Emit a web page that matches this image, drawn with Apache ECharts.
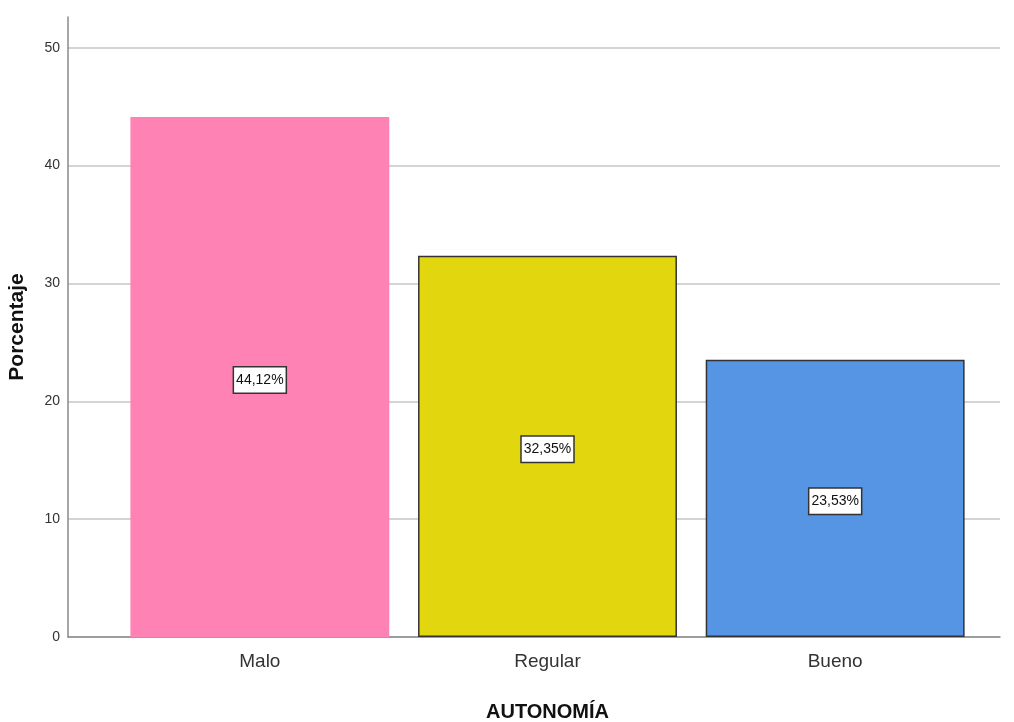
<!DOCTYPE html>
<html>
<head>
<meta charset="utf-8">
<script src="https://cdn.jsdelivr.net/npm/echarts@6/dist/echarts.min.js"></script>
<style>
  html, body { margin: 0; padding: 0; background: #fff; }
  #chart { width: 1014px; height: 722px; }
</style>
</head>
<body>
<div id="chart"></div>
<script>
// Porcentaje por nivel de autonomía
const categories = ['Malo', 'Regular', 'Bueno'];
const percentages = [44.12, 32.35, 23.53];
const barColors = ['#FF82B4', '#E2D60F', '#5595E4'];
const barBorders = ['#FF82B4', '#333333', '#333333'];

const FONT = '"Liberation Sans Narrow", "Liberation Sans", Arial, sans-serif';
const Y_MAX = 52.6;

const chart = echarts.init(document.getElementById('chart'));

chart.setOption({
  backgroundColor: '#ffffff',
  animation: false,
  grid: [
    // frame: y axis, gridlines and baseline
    { left: 68, right: 14, top: 17, bottom: 85, outerBoundsMode: 'none', containLabel: false },
    // bars
    { left: 116, right: 35, top: 17, bottom: 85, outerBoundsMode: 'none', containLabel: false }
  ],
  xAxis: [
    {
      gridIndex: 0, type: 'value', min: 0, max: 1,
      axisLine: { show: true, lineStyle: { color: '#8a8a8a', width: 1.5 } },
      axisTick: { show: false }, axisLabel: { show: false }, splitLine: { show: false }
    },
    {
      gridIndex: 1, type: 'category', data: categories,
      axisLine: { show: false }, axisTick: { show: false },
      axisLabel: { fontFamily: FONT, fontSize: 19, color: '#333', margin: 15 },
      name: 'AUTONOMÍA', nameLocation: 'middle', nameGap: 65,
      nameTextStyle: { fontFamily: FONT, fontSize: 20, fontWeight: 'bold', color: '#111' }
    }
  ],
  yAxis: [
    {
      gridIndex: 0, type: 'value', min: 0, max: Y_MAX, interval: 10,
      axisLine: { show: true, lineStyle: { color: '#8a8a8a', width: 1.5 } },
      axisTick: { show: false },
      axisLabel: { fontFamily: FONT, fontSize: 14, color: '#333', margin: 8, showMaxLabel: false },
      splitLine: {
        show: true,
        lineStyle: {
          color: ['#d4d4d4', '#d4d4d4', '#d4d4d4', '#d4d4d4', '#d4d4d4', '#d4d4d4', 'rgba(0,0,0,0)'],
          width: 2
        }
      },
      name: 'Porcentaje', nameLocation: 'middle', nameGap: 40, nameRotate: 90,
      nameTextStyle: { fontFamily: FONT, fontSize: 21, fontWeight: 'bold', color: '#111' }
    },
    {
      gridIndex: 1, type: 'value', min: 0, max: Y_MAX, show: false
    }
  ],
  series: [
    {
      type: 'bar',
      xAxisIndex: 1, yAxisIndex: 1,
      barCategoryGap: '10%',
      data: percentages.map((v, i) => ({
        value: v,
        itemStyle: { color: barColors[i], borderColor: barBorders[i], borderWidth: 1.5 }
      })),
      label: {
        show: true,
        position: 'inside',
        offset: [0, 3],
        formatter: p => p.value.toFixed(2).replace('.', ',') + '%',
        fontFamily: FONT, fontSize: 14, color: '#111',
        backgroundColor: '#ffffff',
        borderColor: '#333', borderWidth: 1.5,
        padding: [6, 2, 5, 2]
      }
    }
  ]
});
</script>
</body>
</html>
